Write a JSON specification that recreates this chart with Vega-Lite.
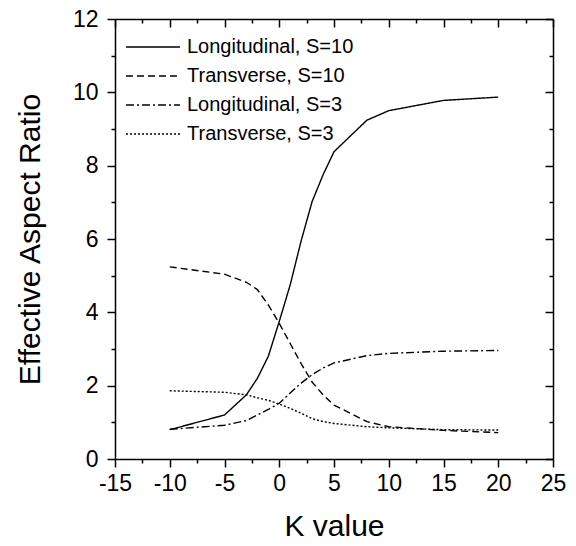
{
  "$schema": "https://vega.github.io/schema/vega-lite/v6.json",
  "width": 438,
  "height": 440,
  "autosize": {"type": "none"},
  "padding": {"left": 115, "top": 19, "right": 23, "bottom": 87},
  "background": "white",
  "view": {"stroke": null},
  "config": {
    "font": "Liberation Sans",
    "axis": {"domainColor": "black", "domainWidth": 1.5, "tickColor": "black", "tickWidth": 1.5, "labelColor": "black", "titleColor": "black", "grid": false, "titleFontWeight": "normal"}
  },
  "data": {"values": [
    {"k": -10, "v": 0.8, "s": "Longitudinal, S=10"},
    {"k": -5, "v": 1.2, "s": "Longitudinal, S=10"},
    {"k": -3, "v": 1.75, "s": "Longitudinal, S=10"},
    {"k": -2, "v": 2.2, "s": "Longitudinal, S=10"},
    {"k": -1, "v": 2.8, "s": "Longitudinal, S=10"},
    {"k": 0, "v": 3.75, "s": "Longitudinal, S=10"},
    {"k": 1, "v": 4.75, "s": "Longitudinal, S=10"},
    {"k": 2, "v": 5.95, "s": "Longitudinal, S=10"},
    {"k": 3, "v": 7.02, "s": "Longitudinal, S=10"},
    {"k": 4, "v": 7.75, "s": "Longitudinal, S=10"},
    {"k": 5, "v": 8.38, "s": "Longitudinal, S=10"},
    {"k": 8, "v": 9.24, "s": "Longitudinal, S=10"},
    {"k": 10, "v": 9.5, "s": "Longitudinal, S=10"},
    {"k": 15, "v": 9.78, "s": "Longitudinal, S=10"},
    {"k": 20, "v": 9.87, "s": "Longitudinal, S=10"},
    {"k": -10, "v": 5.24, "s": "Transverse, S=10"},
    {"k": -5, "v": 5.04, "s": "Transverse, S=10"},
    {"k": -3, "v": 4.82, "s": "Transverse, S=10"},
    {"k": -2, "v": 4.62, "s": "Transverse, S=10"},
    {"k": -1, "v": 4.2, "s": "Transverse, S=10"},
    {"k": 0, "v": 3.7, "s": "Transverse, S=10"},
    {"k": 1, "v": 3.15, "s": "Transverse, S=10"},
    {"k": 2, "v": 2.6, "s": "Transverse, S=10"},
    {"k": 3, "v": 2.1, "s": "Transverse, S=10"},
    {"k": 4, "v": 1.75, "s": "Transverse, S=10"},
    {"k": 5, "v": 1.47, "s": "Transverse, S=10"},
    {"k": 8, "v": 1.02, "s": "Transverse, S=10"},
    {"k": 10, "v": 0.88, "s": "Transverse, S=10"},
    {"k": 15, "v": 0.78, "s": "Transverse, S=10"},
    {"k": 20, "v": 0.72, "s": "Transverse, S=10"},
    {"k": -10, "v": 0.81, "s": "Longitudinal, S=3"},
    {"k": -5, "v": 0.92, "s": "Longitudinal, S=3"},
    {"k": -3, "v": 1.05, "s": "Longitudinal, S=3"},
    {"k": -2, "v": 1.2, "s": "Longitudinal, S=3"},
    {"k": -1, "v": 1.35, "s": "Longitudinal, S=3"},
    {"k": 0, "v": 1.52, "s": "Longitudinal, S=3"},
    {"k": 1, "v": 1.8, "s": "Longitudinal, S=3"},
    {"k": 2, "v": 2.07, "s": "Longitudinal, S=3"},
    {"k": 3, "v": 2.3, "s": "Longitudinal, S=3"},
    {"k": 4, "v": 2.48, "s": "Longitudinal, S=3"},
    {"k": 5, "v": 2.62, "s": "Longitudinal, S=3"},
    {"k": 8, "v": 2.82, "s": "Longitudinal, S=3"},
    {"k": 10, "v": 2.88, "s": "Longitudinal, S=3"},
    {"k": 15, "v": 2.94, "s": "Longitudinal, S=3"},
    {"k": 20, "v": 2.96, "s": "Longitudinal, S=3"},
    {"k": -10, "v": 1.86, "s": "Transverse, S=3"},
    {"k": -5, "v": 1.82, "s": "Transverse, S=3"},
    {"k": -3, "v": 1.75, "s": "Transverse, S=3"},
    {"k": -2, "v": 1.67, "s": "Transverse, S=3"},
    {"k": -1, "v": 1.6, "s": "Transverse, S=3"},
    {"k": 0, "v": 1.5, "s": "Transverse, S=3"},
    {"k": 1, "v": 1.38, "s": "Transverse, S=3"},
    {"k": 2, "v": 1.25, "s": "Transverse, S=3"},
    {"k": 3, "v": 1.1, "s": "Transverse, S=3"},
    {"k": 4, "v": 1.02, "s": "Transverse, S=3"},
    {"k": 5, "v": 0.97, "s": "Transverse, S=3"},
    {"k": 8, "v": 0.88, "s": "Transverse, S=3"},
    {"k": 10, "v": 0.85, "s": "Transverse, S=3"},
    {"k": 15, "v": 0.8, "s": "Transverse, S=3"},
    {"k": 20, "v": 0.79, "s": "Transverse, S=3"}
  ]},
  "layer": [
    {
      "mark": {"type": "line", "color": "black", "strokeWidth": 1.4},
      "encoding": {
        "x": {"field": "k", "type": "quantitative",
          "scale": {"domain": [-15, 25], "nice": false, "zero": false},
          "axis": {"orient": "bottom", "title": "K value", "titleFontSize": 30, "titlePadding": 16,
            "values": [-15, -12.5, -10, -7.5, -5, -2.5, 0, 2.5, 5, 7.5, 10, 12.5, 15, 17.5, 20, 22.5, 25],
            "labelExpr": "datum.value % 5 === 0 ? '' + datum.value : ''",
            "labelFontSize": 23, "labelPadding": 5, "labelFlush": false, "labelOverlap": false,
            "tickSize": {"condition": {"test": "datum.value % 5 === 0", "value": 8}, "value": 4}}},
        "y": {"field": "v", "type": "quantitative",
          "scale": {"domain": [0, 12], "nice": false},
          "axis": {"orient": "left", "title": "Effective Aspect Ratio", "titleFontSize": 30, "titlePadding": 27,
            "values": [0, 1, 2, 3, 4, 5, 6, 7, 8, 9, 10, 11, 12],
            "labelExpr": "datum.value % 2 === 0 ? '' + datum.value : ''",
            "labelFontSize": 23, "labelPadding": 9, "labelFlush": false, "labelOverlap": false,
            "tickSize": {"condition": {"test": "datum.value % 2 === 0", "value": 8}, "value": 4}}},
        "strokeDash": {"field": "s", "type": "nominal",
          "scale": {"domain": ["Longitudinal, S=10", "Transverse, S=10", "Longitudinal, S=3", "Transverse, S=3"],
            "range": [[1, 0], [7, 4], [8, 3, 2, 3], [2, 2]]},
          "legend": {"title": null, "orient": "none", "legendX": 28, "legendY": 18,
            "symbolType": "M-3,0H3", "symbolSize": 324, "symbolStrokeWidth": 1.3, "symbolStrokeColor": "black",
            "labelFontSize": 20, "labelOffset": 24, "labelColor": "black", "labelLimit": 400, "rowPadding": 9, "padding": 0}}
      }
    },
    {
      "mark": {"type": "line", "opacity": 0},
      "encoding": {
        "x": {"field": "k", "type": "quantitative",
          "scale": {"domain": [-15, 25], "nice": false, "zero": false},
          "axis": {"orient": "top", "title": null, "labels": false,
            "values": [-15, -12.5, -10, -7.5, -5, -2.5, 0, 2.5, 5, 7.5, 10, 12.5, 15, 17.5, 20, 22.5, 25],
            "tickSize": {"condition": {"test": "datum.value % 5 === 0", "value": -8}, "value": -4}}},
        "y": {"field": "v", "type": "quantitative",
          "scale": {"domain": [0, 12], "nice": false},
          "axis": {"orient": "right", "title": null, "labels": false,
            "values": [0, 1, 2, 3, 4, 5, 6, 7, 8, 9, 10, 11, 12],
            "tickSize": {"condition": {"test": "datum.value % 2 === 0", "value": -8}, "value": -4}}},
        "detail": {"field": "s", "type": "nominal"}
      }
    }
  ],
  "resolve": {"axis": {"x": "independent", "y": "independent"}}
}
